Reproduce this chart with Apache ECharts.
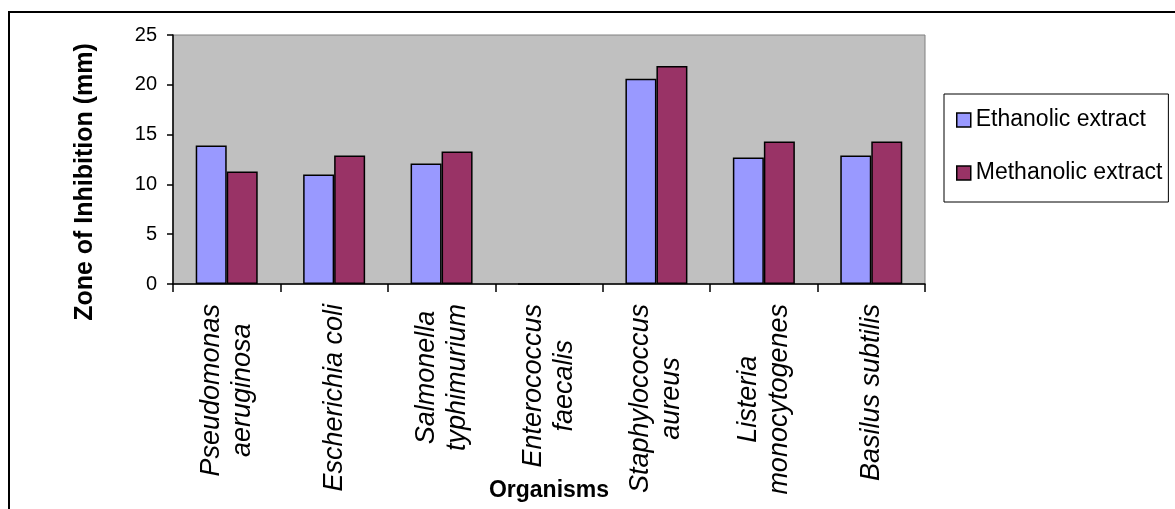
<!DOCTYPE html>
<html>
<head>
<meta charset="utf-8">
<script src="https://cdn.jsdelivr.net/npm/echarts@6/dist/echarts.min.js"></script>
<style>
  html, body { margin: 0; padding: 0; background: #fff; }
  #chart { width: 1175px; height: 509px; }
</style>
</head>
<body>
<div id="chart"></div>
<script>
// organisms on the x axis ('\n' = line break in the label)
const categories = [
  'Pseudomonas\naeruginosa',
  'Escherichia coli',
  'Salmonella\ntyphimurium',
  'Enterococcus\nfaecalis',
  'Staphylococcus\naureus',
  'Listeria\nmonocytogenes',
  'Basilus subtilis',
]
const seriesNames = ['Ethanolic extract', 'Methanolic extract']
const ethanolic = [13.9, 11.0, 12.1, 0, 20.6, 12.7, 12.9]
const methanolic = [11.3, 12.9, 13.3, 0, 21.9, 14.3, 14.3]
const yTicks = [0, 5, 10, 15, 20, 25]

const font = "'Liberation Sans', Arial, sans-serif"
const chart = echarts.init(document.getElementById('chart'))

const barStyle = (color) => ({
  color: color,
  borderColor: '#000',
  borderWidth: 1.5,
})

const option = {
  backgroundColor: '#fff',
  animation: false,
  textStyle: { fontFamily: font, color: '#000' },
  grid: {
    left: 173,
    right: 250,
    top: 35,
    bottom: 225,
    outerBoundsMode: 'none',
    containLabel: false,
    show: true,
    backgroundColor: '#C0C0C0',
    borderColor: '#808080',
    borderWidth: 1,
  },
  legend: {
    orient: 'vertical',
    left: 944,
    top: 94,
    padding: [14, 6, 17, 12],
    itemGap: 29,
    itemWidth: 14,
    itemHeight: 14,
    icon: 'rect',
    borderColor: '#000',
    borderWidth: 1,
    itemStyle: { borderColor: '#000', borderWidth: 1.5 },
    textStyle: { fontSize: 23, color: '#000', fontFamily: font, lineHeight: 24 },
    data: seriesNames,
  },
  xAxis: {
    type: 'category',
    data: categories,
    name: 'Organisms',
    nameLocation: 'middle',
    nameGap: 207,
    nameMoveOverlap: false,
    nameTextStyle: {
      fontSize: 23,
      fontWeight: 'bold',
      color: '#000',
      fontFamily: font,
      verticalAlign: 'middle',
    },
    axisLine: { lineStyle: { color: '#000', width: 1.5 } },
    axisTick: { show: true, length: 8, lineStyle: { color: '#000', width: 1.5 } },
    axisLabel: {
      interval: 0,
      rotate: 90,
      margin: 20,
      formatter: (v) => v.split('\n').map((s) => '{a|' + s + '}').join('\n'),
      rich: {
        a: {
          align: 'center',
          fontSize: 27,
          fontStyle: 'italic',
          lineHeight: 31,
          color: '#000',
          fontFamily: font,
        },
      },
    },
  },
  yAxis: {
    type: 'value',
    min: yTicks[0],
    max: yTicks[yTicks.length - 1],
    interval: 5,
    axisLine: { show: true, lineStyle: { color: '#000', width: 1.5 } },
    axisTick: { show: true, length: 6, lineStyle: { color: '#000', width: 1.5 } },
    axisLabel: { fontSize: 20, color: '#000', margin: 16, fontFamily: font },
    splitLine: { show: false },
  },
  series: [
    {
      name: seriesNames[0],
      type: 'bar',
      data: ethanolic,
      barWidth: 31,
      barGap: '0%',
      itemStyle: barStyle('#9999FF'),
    },
    {
      name: seriesNames[1],
      type: 'bar',
      data: methanolic,
      barWidth: 31,
      barGap: '0%',
      itemStyle: barStyle('#993366'),
    },
  ],
  graphic: [
    {
      // outer chart frame (runs off the right/bottom edge)
      type: 'rect',
      shape: { x: 9, y: 12, width: 1300, height: 700 },
      style: { fill: 'none', stroke: '#000', lineWidth: 2 },
      silent: true,
    },
    {
      type: 'text',
      x: 85,
      y: 182,
      rotation: Math.PI / 2,
      style: {
        text: 'Zone of Inhibition (mm)',
        fontSize: 25,
        fontWeight: 'bold',
        fontFamily: font,
        fill: '#000',
        align: 'center',
        verticalAlign: 'middle',
      },
    },
  ],
}

chart.setOption(option)
</script>
</body>
</html>
